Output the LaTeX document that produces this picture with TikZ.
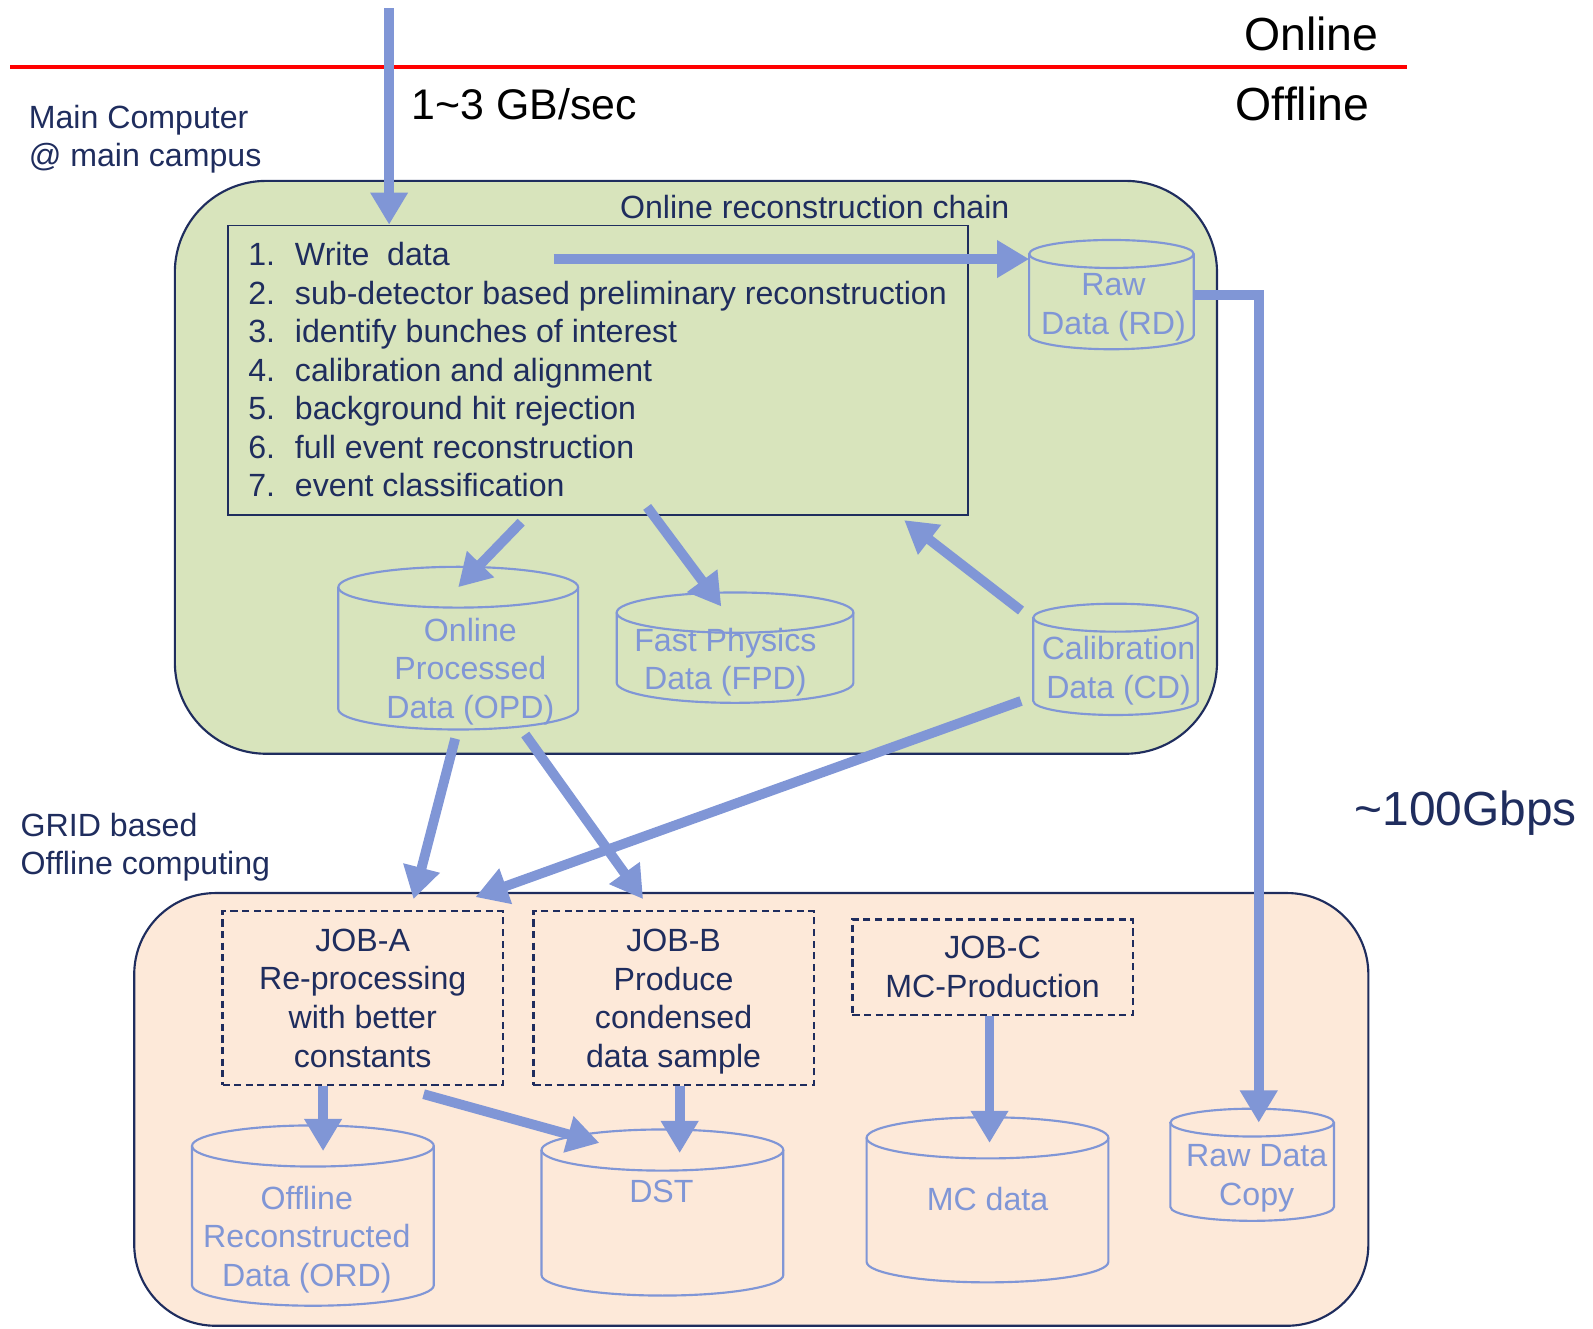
\documentclass[tikz,border=0pt]{standalone}
\usepackage{fontspec}
\setmainfont{Liberation Sans}
\usetikzlibrary{arrows.meta}

\definecolor{navy}{RGB}{31,45,94}
\definecolor{flowblue}{RGB}{128,150,214}
\definecolor{onlinegreen}{RGB}{216,228,188}
\definecolor{gridpeach}{RGB}{253,233,217}

% cylinder: name, centre x, top y, bottom y, half width
\newcommand{\datastore}[5]{%
  \draw[storeline] (#2,#3) ellipse [x radius=#5*0.02cm, y radius=#5*0.0034cm];
  \draw[storeline] (#2-#5,#3) -- (#2-#5,#4) arc [start angle=180, end angle=360, x radius=#5*0.02cm, y radius=#5*0.0034cm] -- (#2+#5,#3);
  \coordinate (#1-top) at (#2,#3);
  \coordinate (#1-tl) at (#2-#5,#3);
  \coordinate (#1-east) at (#2+#5,{(#3+#4)/2});
}

\begin{document}
\begin{tikzpicture}[x=0.02cm, y=0.02cm,
    flow/.style={draw=flowblue, line width=5.5pt, -{Triangle[width=20pt,length=18pt]}},
    storeline/.style={draw=flowblue, line width=1.2pt},
    storetext/.style={text=flowblue, align=center, inner sep=0pt, font=\fontsize{18}{21.6}\selectfont},
    labeltext/.style={text=navy, align=left, inner sep=0pt, font=\fontsize{18}{21.6}\selectfont},
    bigtext/.style={inner sep=0pt, font=\fontsize{26}{31}\selectfont},
    jobbox/.style={draw=navy, dashed, dash pattern=on 4pt off 2.5pt, line width=1.3pt, minimum width=5.52cm, align=center, text=navy, font=\fontsize{18}{21.6}\selectfont},
    roundbox/.style={draw=navy, line width=1.2pt}
  ]
  \useasboundingbox (0,0) rectangle (1568,1308);

  \draw[red, line width=2.3pt] (10,1242) -- (1385,1242);
  \node[bigtext, anchor=base east] (online) at (1357,1258) {Online};
  \node[bigtext, anchor=base east] (offline) at (1348,1189) {Offline};
  \node[bigtext, anchor=base west, font=\fontsize{24}{29}\selectfont] (rate) at (405,1190) {1\textasciitilde3 GB/sec};
  \node[labeltext, anchor=west] (maincomp) at (28,1171) {Main Computer\\@ main campus};
  \node[labeltext, anchor=west] (gridlabel) at (20,474) {GRID based\\Offline computing};
  \node[bigtext, anchor=west, text=navy, font=\fontsize{26.8}{32}\selectfont] (bandwidth) at (1333,508) {\textasciitilde100Gbps};

  % online part
  \node[roundbox, fill=onlinegreen, rounded corners=1.8cm, minimum width=20.52cm, minimum height=11.28cm] (mainbox) at (685,848) {};
  \node[labeltext, anchor=west] (chaintitle) at (610,1104) {Online reconstruction chain};
  \node[draw=navy, line width=1pt, minimum width=14.58cm, minimum height=5.7cm] (chain) at (588.5,943.5) {};
  \node[labeltext, anchor=west] (steps) at (244,944) {%
    \makebox[0.92cm][l]{1.}Write\ \ data\\
    \makebox[0.92cm][l]{2.}sub-detector based preliminary reconstruction\\
    \makebox[0.92cm][l]{3.}identify bunches of interest\\
    \makebox[0.92cm][l]{4.}calibration and alignment\\
    \makebox[0.92cm][l]{5.}background hit rejection\\
    \makebox[0.92cm][l]{6.}full event reconstruction\\
    \makebox[0.92cm][l]{7.}event classification};

  \datastore{rd}{1094}{1058}{978}{81}
  \datastore{opd}{451}{730}{610}{118}
  \datastore{fpd}{723.5}{705}{636}{116.5}
  \datastore{cd}{1098}{700}{618}{81}
  \node[storetext] (rdtext) at (1096,1005.5) {Raw\\Data (RD)};
  \node[storetext] (opdtext) at (463,647) {Online\\Processed\\Data (OPD)};
  \node[storetext] (fpdtext) at (714,656) {Fast Physics\\Data (FPD)};
  \node[storetext] (cdtext) at (1101,648) {Calibration\\Data (CD)};

  % offline part
  \node[roundbox, fill=gridpeach, rounded corners=1.6cm, minimum width=24.3cm, minimum height=8.52cm] (gridbox) at (739.5,216) {};
  \node[jobbox, minimum height=3.42cm] (joba) at (357,325.5) {JOB-A\\Re-processing\\with better\\constants};
  \node[jobbox, minimum height=3.42cm, text depth=0pt] (jobb) at (663,325.5) {\raisebox{0pt}{}JOB-B\\Produce\\condensed\\data sample};
  \node[jobbox, minimum height=1.88cm] (jobc) at (977,356) {JOB-C\\MC-Production};

  \datastore{ord}{308}{180}{43}{119}
  \datastore{dst}{652}{176}{53}{119}
  \datastore{mc}{972}{188}{66}{119}
  \datastore{rdc}{1232.5}{203}{120}{80.5}
  \node[storetext] (ordtext) at (302,88) {Offline\\Reconstructed\\Data (ORD)};
  \node[storetext] (dsttext) at (651,135) {DST};
  \node[storetext] (mctext) at (972,128) {MC data};
  \node[storetext] (rdctext) at (1237,148) {Raw Data\\Copy};

  % data flow
  \coordinate (feed) at (383,1300);
  \coordinate (write) at (545,1053);
  \coordinate (rdcin) at (1239,203);
  \coordinate (opdin) at (513,794);
  \coordinate (fpdin) at (637,809);
  \coordinate (fpdtip) at (710,711);
  \coordinate (cdout) at (1005,707);
  \coordinate (calin) at (890,796);
  \coordinate (cdjob) at (1005,618);
  \coordinate (jobacal) at (468,425);
  \coordinate (opdleft) at (448,581);
  \coordinate (jobain) at (407,423);
  \coordinate (opdright) at (517,585);
  \coordinate (jobbin) at (633,423);
  \coordinate (ordin) at (318,175);
  \coordinate (jobaout) at (417,231);
  \coordinate (dstin) at (590,183);
  \coordinate (dstin2) at (669,173);
  \coordinate (mcin) at (974,183);

  \draw[flow] (feed) -- (feed |- chain.north);
  \draw[flow] (write) -- (write -| rd-tl);
  \draw[flow, line join=miter] (rd-east) -| (rdcin);
  \draw[flow] (opdin) -- (opd-top);
  \draw[flow] (fpdin) -- (fpdtip);
  \draw[flow] (cdout) -- (calin);
  \draw[flow] (cdjob) -- (jobacal);
  \draw[flow] (opdleft) -- (jobain);
  \draw[flow] (opdright) -- (jobbin);
  \draw[flow] (joba.south -| ordin) -- (ordin);
  \draw[flow] (jobaout) -- (dstin);
  \draw[flow] (jobb.south -| dstin2) -- (dstin2);
  \draw[flow] (jobc.south -| mcin) -- (mcin);
\end{tikzpicture}
\end{document}
